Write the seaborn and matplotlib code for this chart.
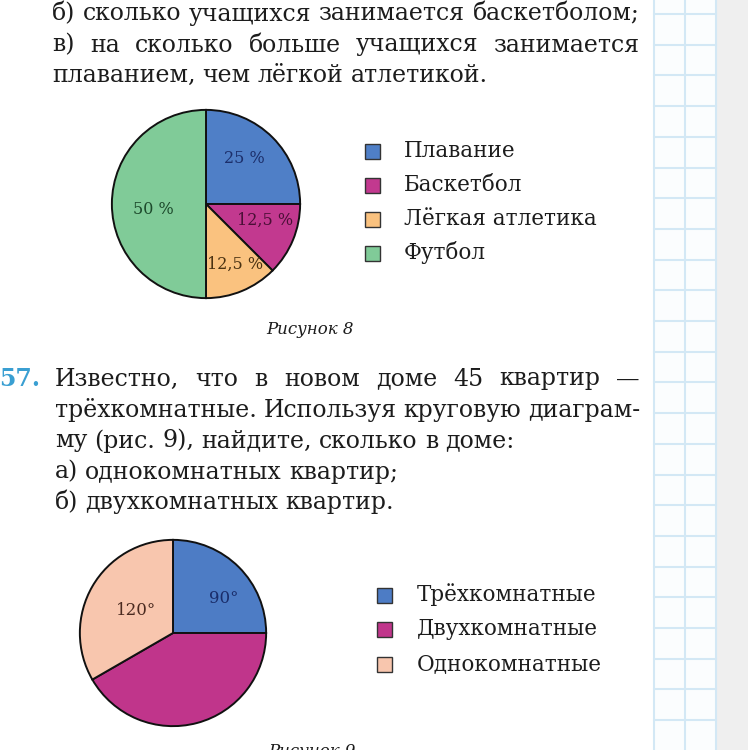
import numpy as np
import matplotlib
matplotlib.use("Agg")
import matplotlib.pyplot as plt
import seaborn as sns

# Рисунок 8: виды спорта, доли в процентах
sports = ["Плавание", "Баскетбол", "Лёгкая атлетика", "Футбол"]
sport_share = [25, 12.5, 12.5, 50]
sport_labels = ["25 %", "12,5 %", "12,5 %", "50 %"]
sport_colors = ["#4f7fc7", "#c2398f", "#fac27f", "#80cb98"]
sport_text_colors = ["#1c2f6b", "#4a0f36", "#4a3212", "#1d4a2c"]

# Рисунок 9: квартиры, центральные углы в градусах
flats = ["Трёхкомнатные", "Двухкомнатные", "Однокомнатные"]
flat_angle = [90, 150, 120]
flat_labels = ["90°", "", "120°"]
flat_colors = ["#4d7cc5", "#c0358b", "#f8c6ae"]
flat_text_colors = ["#1a2d6a", "#40102e", "#4a2a20"]

W, H = 748, 750
BODY_FONT = "DejaVu Serif"
BODY_SIZE = 17
LEGEND_SIZE = 15.5
TEXT_COLOR = "#1c1c1c"

sns.set_theme(style="white")
plt.rcParams["font.family"] = [BODY_FONT, "DejaVu Sans"]

fig = plt.figure(figsize=(W / 100, H / 100), dpi=100)
fig.patch.set_facecolor("white")

# full-figure axes in pixel units for the page itself
ax_bg = fig.add_axes([0, 0, 1, 1])
ax_bg.set_xlim(0, W)
ax_bg.set_ylim(H, 0)
ax_bg.axis("off")

# squared margin strip and grey edge
ax_bg.axvspan(654, 716, color="#fbfdfe", zorder=0)
ax_bg.axvspan(716, W, color="#efefef", zorder=0)
for gx in [654, 685, 716]:
    ax_bg.axvline(gx, color="#d3e8f5", lw=1.5, zorder=1)
for gy in np.arange(14, H, 30.7):
    ax_bg.plot([654, 716], [gy, gy], color="#d3e8f5", lw=1.5, zorder=1)

renderer = fig.canvas.get_renderer()


def put_line(text, x0, y, x1=None, **kw):
    """Write one line of body text, spread to x1 when given."""
    words = text.split(" ")
    opts = dict(fontsize=BODY_SIZE, color=TEXT_COLOR, va="center", ha="left")
    opts.update(kw)
    items = [ax_bg.text(x0, y, w, **opts) for w in words]
    widths = [t.get_window_extent(renderer).width for t in items]
    gap = opts["fontsize"] * 100 / 72 * 0.3
    if x1 is not None and len(words) > 1:
        gap = (x1 - x0 - sum(widths)) / (len(words) - 1)
    x = x0
    for t, w in zip(items, widths):
        t.set_x(x)
        x += w + gap


put_line("б) сколько учащихся занимается баскетболом;", 52, 14, 640)
put_line("в) на сколько больше учащихся занимается", 52, 45, 640)
put_line("плаванием, чем лёгкой атлетикой.", 52, 75)

ax_bg.text(310, 330, "Рисунок 8", fontsize=12, style="italic",
           color=TEXT_COLOR, ha="center", va="center")

ax_bg.text(-1, 379, "57.", fontsize=BODY_SIZE, fontweight="bold",
           color="#3a9fd2", ha="left", va="center")
put_line("Известно, что в новом доме 45 квартир —", 55, 379, 640)
put_line("трёхкомнатные. Используя круговую диаграм-", 55, 410, 640)
put_line("му (рис. 9), найдите, сколько в доме:", 55, 441)
put_line("а) однокомнатных квартир;", 55, 472)
put_line("б) двухкомнатных квартир.", 55, 503)

ax_bg.text(312, 752, "Рисунок 9", fontsize=12, style="italic",
           color=TEXT_COLOR, ha="center", va="center")


def pie_axes(cx, cy, r):
    ax = fig.add_axes([(cx - r) / W, 1 - (cy + r) / H, 2 * r / W, 2 * r / H])
    ax.set_facecolor("none")
    return ax


def legend_rows(names, colors, x_box, x_text, y0, step):
    for i, (name, col) in enumerate(zip(names, colors)):
        y = y0 + i * step
        ax_bg.add_patch(plt.Rectangle((x_box, y - 7.5), 15, 15, facecolor=col,
                                      edgecolor="#333333", lw=1.0, zorder=3))
        ax_bg.text(x_text, y, name, fontsize=LEGEND_SIZE, color=TEXT_COLOR,
                   ha="left", va="center")


wedge_style = dict(edgecolor="#111111", linewidth=1.4)

# Рисунок 8
ax1 = pie_axes(206, 204, 96)
ax1.pie(sport_share, colors=sport_colors, startangle=90, counterclock=False,
        radius=1, wedgeprops=wedge_style)
ax1.set_xlim(-1.02, 1.02)
ax1.set_ylim(-1.02, 1.02)
label_pos1 = [(0.41, 0.48), (0.63, -0.17), (0.31, -0.64), (-0.56, -0.06)]
for (lx, ly), lab, col in zip(label_pos1, sport_labels, sport_text_colors):
    ax1.text(lx, ly, lab, fontsize=11.5, color=col, ha="center", va="center")
legend_rows(sports, sport_colors, 365, 404, 151, 34)

# Рисунок 9
ax2 = pie_axes(173, 633, 95)
ax2.pie(flat_angle, colors=flat_colors, startangle=90, counterclock=False,
        radius=1, wedgeprops=wedge_style)
ax2.set_xlim(-1.02, 1.02)
ax2.set_ylim(-1.02, 1.02)
label_pos2 = [(0.55, 0.37), (0, 0), (-0.40, 0.24)]
for (lx, ly), lab, col in zip(label_pos2, flat_labels, flat_text_colors):
    if lab:
        ax2.text(lx, ly, lab, fontsize=12, color=col, ha="center", va="center")
legend_rows(flats, flat_colors, 377, 417, 595, 34.5)

fig.savefig("out.png", dpi=100)
